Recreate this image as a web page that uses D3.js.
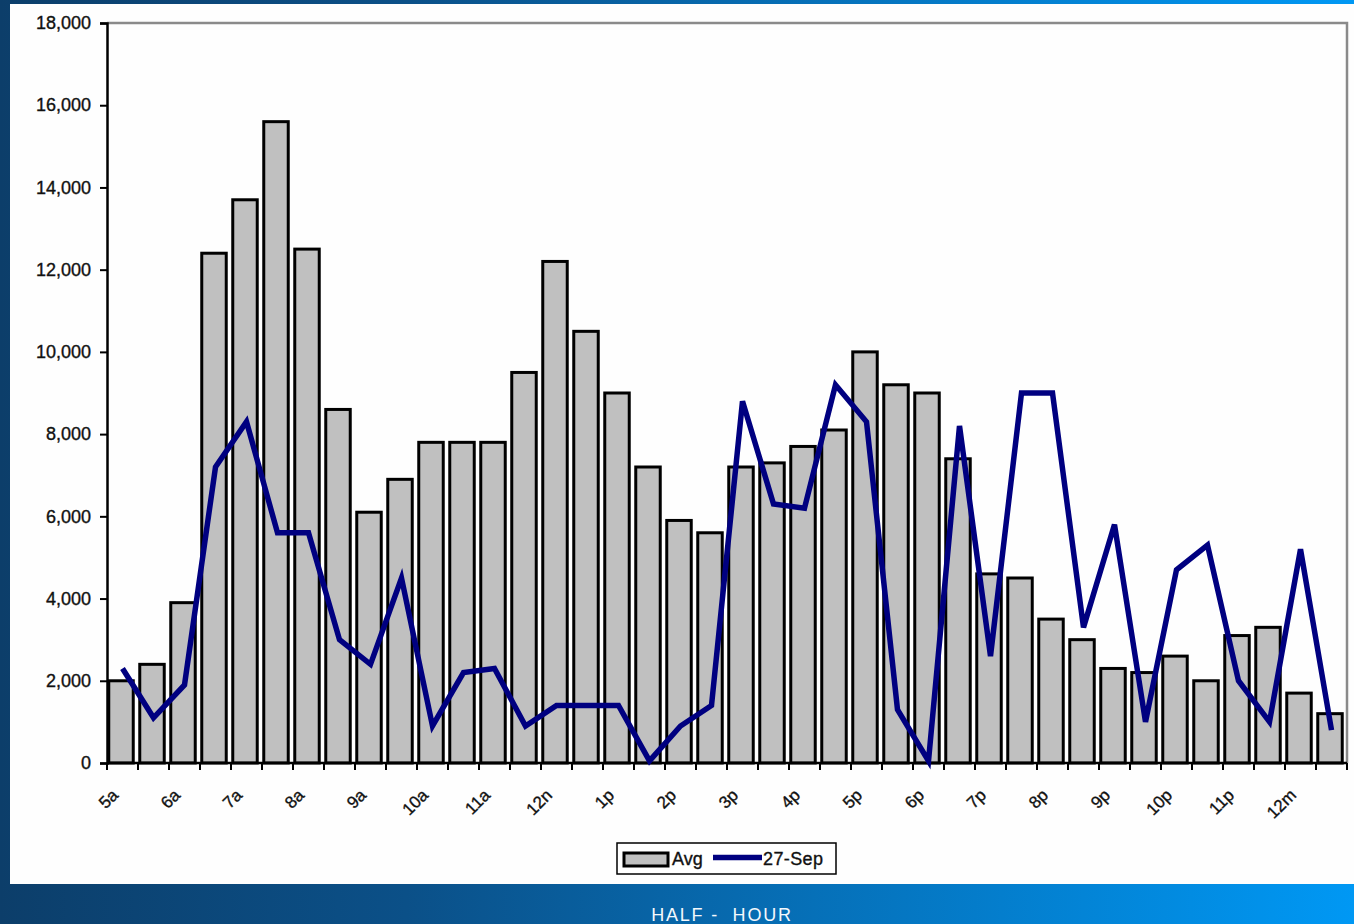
<!DOCTYPE html>
<html>
<head>
<meta charset="utf-8">
<script src="https://cdn.jsdelivr.net/npm/d3@7"></script>
<style>
  html, body { margin: 0; padding: 0; background: #0c3e6a; }
  svg { display: block; }
  text { font-family: "Liberation Sans", Arial, sans-serif; }
  .ink { stroke: #111; stroke-width: 0.35px; }
</style>
</head>
<body>
<script>
const width = 1354, height = 924;

// half-hour slots, labels on every full hour
const hourLabels = ['5a','6a','7a','8a','9a','10a','11a','12n','1p','2p',
                    '3p','4p','5p','6p','7p','8p','9p','10p','11p','12m'];
const slots = d3.range(40);

const avgValues = [2000, 2400, 3900, 12400, 13700, 15600, 12500, 8600, 6100, 6900,
                   7800, 7800, 7800, 9500, 12200, 10500, 9000, 7200, 5900, 5600,
                   7200, 7300, 7700, 8100, 10000, 9200, 9000, 7400, 4600, 4500,
                   3500, 3000, 2300, 2200, 2600, 2000, 3100, 3300, 1700, 1200];

const sepValues = [2300, 1100, 1900, 7200, 8300, 5600, 5600, 3000, 2400, 4500,
                   900, 2200, 2300, 900, 1400, 1400, 1400, 50, 900, 1400,
                   8800, 6300, 6200, 9200, 8300, 1300, 50, 8200, 2600, 9000,
                   9000, 3300, 5800, 1000, 4700, 5300, 2000, 1000, 5200, 800];

const yTicks = d3.range(0, 18001, 2000);

const plot = { left: 107, right: 1347, top: 23, bottom: 763 };

const svg = d3.select('body').append('svg')
      .attr('width', width).attr('height', height);

// blue slide background
const defs = svg.append('defs');
const grad = defs.append('linearGradient').attr('id', 'bg')
      .attr('x1', '0%').attr('x2', '100%').attr('y1', '0%').attr('y2', '0%');
[[0, '#0c3e6a'], [0.3, '#0b5088'], [0.6, '#0670b8'], [1, '#0098f4']].forEach(s => {
  grad.append('stop').attr('offset', s[0]).attr('stop-color', s[1]);
});
svg.append('rect').attr('width', width).attr('height', height).attr('fill', 'url(#bg)');

// white chart panel
svg.append('rect')
    .attr('x', 10).attr('y', 4)
    .attr('width', width - 10).attr('height', 880)
    .attr('fill', '#fefefe');

const x = d3.scaleBand()
      .domain(slots)
      .range([plot.left, plot.right])
      .paddingInner(0.21)
      .paddingOuter(0.105);

const step = x.step();
const edge = i => plot.left + i * step;

const y = d3.scaleLinear()
      .domain([0, 18000])
      .range([plot.bottom, plot.top]);

// top and right frame (grey)
svg.append('path')
    .attr('d', `M${plot.left},${plot.top}H${plot.right}V${plot.bottom}`)
    .attr('fill', 'none')
    .attr('stroke', '#8a8a8a')
    .attr('stroke-width', 2.5);

// bars
svg.append('g').selectAll('rect')
    .data(slots)
    .join('rect')
    .attr('x', d => x(d) - 1.5)
    .attr('y', d => y(avgValues[d]))
    .attr('width', x.bandwidth())
    .attr('height', d => y(0) - y(avgValues[d]))
    .attr('fill', '#c0c0c0')
    .attr('stroke', '#000')
    .attr('stroke-width', 3);

// y axis
const yAxis = svg.append('g')
    .attr('transform', `translate(${plot.left},0)`)
    .call(d3.axisLeft(y).tickValues(yTicks).tickFormat(d3.format(',')).tickSize(7).tickPadding(9));
yAxis.select('.domain').attr('stroke', '#000').attr('stroke-width', 2.5);
yAxis.selectAll('.tick line').attr('stroke', '#000').attr('stroke-width', 2);
yAxis.selectAll('text')
    .attr('class', 'ink')
    .attr('font-family', '"Liberation Sans", Arial, sans-serif')
    .attr('font-size', 18)
    .attr('fill', '#111');

// x axis line and ticks at every slot boundary
const xg = svg.append('g');
xg.append('line')
    .attr('x1', plot.left).attr('x2', plot.right)
    .attr('y1', plot.bottom).attr('y2', plot.bottom)
    .attr('stroke', '#000').attr('stroke-width', 2.5);
xg.selectAll('line.tk')
    .data(d3.range(41))
    .join('line')
    .attr('class', 'tk')
    .attr('x1', d => edge(d)).attr('x2', d => edge(d))
    .attr('y1', plot.bottom).attr('y2', plot.bottom + 7)
    .attr('stroke', '#000').attr('stroke-width', 2);

xg.selectAll('text')
    .data(hourLabels)
    .join('text')
    .attr('class', 'ink')
    .attr('transform', (d, i) => `translate(${edge(i * 2) + 8},${plot.bottom + 29}) rotate(-45)`)
    .attr('text-anchor', 'end')
    .attr('dy', '0.35em')
    .attr('font-size', 17)
    .attr('fill', '#111')
    .text(d => d);

// 27-Sep line
const line = d3.line()
    .x((d, i) => x(i) + x.bandwidth() / 2)
    .y(d => y(d));

svg.append('path')
    .datum(sepValues)
    .attr('d', line)
    .attr('fill', 'none')
    .attr('stroke', '#000080')
    .attr('stroke-width', 5.5);

// legend
const lg = svg.append('g').attr('transform', 'translate(617,843)');
lg.append('rect')
    .attr('width', 219).attr('height', 31)
    .attr('fill', '#fff').attr('stroke', '#000').attr('stroke-width', 1.5);
lg.append('rect')
    .attr('x', 7).attr('y', 10).attr('width', 44).attr('height', 13)
    .attr('fill', '#c0c0c0').attr('stroke', '#000').attr('stroke-width', 3);
lg.append('text')
    .attr('class', 'ink')
    .attr('x', 55).attr('y', 22)
    .attr('font-size', 18).attr('fill', '#111')
    .text('Avg');
lg.append('line')
    .attr('x1', 96).attr('x2', 145).attr('y1', 14.5).attr('y2', 14.5)
    .attr('stroke', '#000080').attr('stroke-width', 5.5);
lg.append('text')
    .attr('class', 'ink')
    .attr('x', 146).attr('y', 22)
    .attr('font-size', 18).attr('fill', '#111')
    .attr('letter-spacing', 0.4)
    .text('27-Sep');

// axis title on the slide footer
svg.append('text')
    .attr('x', 722).attr('y', 921)
    .attr('text-anchor', 'middle')
    .attr('font-size', 18)
    .attr('letter-spacing', 1.8)
    .attr('fill', '#f4f8fc')
    .attr('xml:space', 'preserve')
    .text('HALF -  HOUR');
</script>
</body>
</html>
